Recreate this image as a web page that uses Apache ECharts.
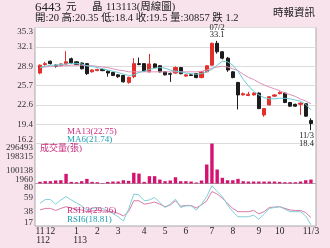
<!DOCTYPE html>
<html><head><meta charset="utf-8">
<script src="https://cdn.jsdelivr.net/npm/echarts@6/dist/echarts.min.js"></script>
<style>html,body{margin:0;padding:0;background:#f8e2ec}#c{width:330px;height:248px}</style>
</head><body><div id="c"></div><script>
// ---- data ----
const opens  = [27.8,29.2,29.75,29.1,29.0,29.3,30.15,29.65,29.45,29.35,28.0,28.2,28.4,28.1,27.9,27.5,27.4,26.25,27.2,29.35,29.35,28.0,29.3,29.0,28.0,27.7,27.8,28.7,27.3,27.5,27.7,27.05,28.0,29.1,32.7,31.3,30.25,28.0,26.25,24.2,24.1,24.2,24.5,20.9,22.55,24.0,24.4,24.5,22.95,22.65,22.65,22.75,20.0];
const closes = [29.1,29.35,29.35,28.9,29.3,29.65,29.45,29.2,28.5,27.7,28.3,28.4,28.2,27.8,27.4,27.2,26.35,27.1,29.35,29.2,28.1,29.3,28.7,28.0,27.5,27.6,28.7,27.7,27.5,27.4,27.05,28.0,29.0,32.7,31.3,30.25,28.3,27.05,24.2,24.4,24.3,24.5,21.95,21.95,23.9,24.2,24.6,22.95,22.35,22.35,22.85,20.7,19.5];
const lows   = [27.6,29.0,29.2,28.7,28.9,29.1,29.3,29.1,28.4,27.5,27.9,28.1,28.1,27.2,27.3,27.0,26.25,26.05,26.95,29.1,28.0,27.9,28.6,27.9,27.4,26.35,27.7,27.6,27.2,27.3,26.95,26.95,27.9,29.0,31.0,30.05,28.0,26.95,21.8,24.1,24.0,24.1,21.85,20.6,22.45,23.9,24.3,22.85,22.25,22.25,20.9,20.6,18.4];
const highs  = [29.2,29.65,29.85,29.2,29.4,31.4,30.35,29.75,29.55,29.45,28.4,28.5,28.5,28.2,28.0,27.6,27.5,27.2,30.25,30.35,29.45,30.95,29.4,29.1,28.1,27.9,28.9,28.8,27.6,27.6,27.8,28.1,29.1,32.8,33.1,31.4,30.45,28.1,26.35,24.6,24.7,24.6,24.6,22.05,24.0,24.3,24.8,24.6,23.05,22.75,22.95,22.85,20.35];
const ma13 = [28.7,28.8,28.9,28.95,29.0,29.0,29.1,29.1,29.1,29.0,29.0,28.9,28.8,28.7,28.5,28.3,28.2,28.0,28.0,28.0,28.0,28.0,28.0,28.0,28.0,28.0,28.0,28.0,28.0,28.0,28.0,28.1,28.3,28.6,28.8,28.9,28.8,28.5,28.2,27.6,27.1,26.75,26.25,25.85,25.5,25.2,24.9,24.5,24.25,23.95,23.5,23.2,22.75];
const ma6  = [28.7,28.9,29.1,29.1,29.2,29.3,29.4,29.4,29.3,29.0,28.9,28.7,28.5,28.3,28.1,27.9,27.6,27.4,27.5,27.9,28.1,28.4,28.6,28.7,28.6,28.3,28.1,28.0,27.8,27.7,27.6,27.7,28.0,28.4,29.1,29.75,29.65,29.1,28.1,26.75,25.7,24.8,24.2,23.75,23.55,23.55,23.65,23.65,23.55,23.35,23.15,22.65,21.74];
const volumes = [14500,19000,19000,24000,26000,73000,14000,11500,19000,36000,14000,11500,5000,14000,16500,16500,26000,21500,81000,75000,14000,56000,56000,31000,19000,24000,48000,19000,19000,16500,9500,24000,142000,296000,105000,44000,26000,26000,36000,19000,16500,16500,16500,16500,16500,16500,14000,11500,11500,11500,16500,26000,30857];
const rsi6  = [50.6,56.2,56.2,49.4,55.6,60.6,55.6,51.2,46.9,40.7,43.1,44.4,43.1,39.4,35.7,30.7,24.5,41.9,64.3,63.1,54.4,55.6,59.3,51.9,44.4,49.4,56.8,44.4,46.9,46.9,40.7,49.4,60.6,76.8,68.1,60.6,48.1,38.2,30.7,30.7,30.7,33.2,27.0,34.4,43.1,44.4,45.6,41.9,38.2,38.2,38.2,31.9,18.81];
const rsi13 = [40.7,43.1,43.1,40.0,43.1,45.6,43.8,41.9,40.7,38.2,39.4,40.0,39.4,38.8,38.2,35.7,31.9,38.2,54.4,54.4,49.4,50.6,52.5,49.4,45.6,48.1,54.4,46.3,47.5,47.5,43.8,48.1,54.4,68.1,64.3,58.1,50.6,43.1,38.2,38.2,38.2,40.0,35.1,38.2,44.4,45.0,45.6,43.1,40.7,40.0,40.0,36.9,29.36];
const monthPos = [0,2,7,11,15,20,24,28,33,37,42,46,52];
const monthLabels = ['11','12','1','2','3','4','5','6','7','8','9','10','11/3'];
const yearPos = [0.6,7.7];
const yearLabels = ['112','113'];
const priceTicks = [16.2,19.383,22.567,25.75,28.933,32.117,35.3];
const priceLabels = ['16.2','19.4','22.6','25.7','28.9','32.1','35.3'];
const volTicks = [1960,100138,198315,296493];
const volLabels = ['1960','100138','198315','296493'];
const rsiTicks = [17,38,59,80];
const rsiLabels = ['17','38','59','80'];
const maxDate = '07/2', minDate = '11/3';

// ---- chart ----
const FONT = '"Liberation Serif","Noto Sans CJK TC",serif';
const pick = (ticks, labels) => v => { for (let i=0;i<ticks.length;i++) if (Math.abs(ticks[i]-v)<1e-3) return labels[i]; return ''; };
const pickEdge = (ticks, labels) => v => {
  for (let i=0;i<ticks.length;i++) if (Math.abs(ticks[i]-v)<1e-3) {
    if (i===0) return '{lo|'+labels[i]+'}';
    if (i===ticks.length-1) return '{hi|'+labels[i]+'}';
    return labels[i];
  }
  return '';
};
const edgeRich = {
  lo:{fontSize:9, color:'#333', fontFamily:FONT, padding:[0,0,7,0]},
  hi:{fontSize:9, color:'#333', fontFamily:FONT, padding:[8,0,0,0]}
};
const chart = echarts.init(document.getElementById('c'), null, {renderer:'canvas'});
const gridBase = {left:35, right:14, show:true, backgroundColor:'#fff', borderColor:'#a9a9a9', borderWidth:1};
const xBase = {type:'value', min:-0.96, max:52.97, axisLine:{show:false}, axisTick:{show:false}, splitLine:{show:false}, axisLabel:{show:false}};
const yLab = (ticks, labels) => ({customValues:ticks, formatter:pickEdge(ticks,labels), fontSize:9, color:'#333', fontFamily:FONT, margin:2, rich:edgeRich});
const candleData = opens.map((o,i)=>[i,o,closes[i],lows[i],highs[i]]);
chart.setOption({
  animation:false,
  backgroundColor:'#f8e2ec',
  grid:[
    Object.assign({top:27.5, height:116}, gridBase),
    Object.assign({top:143.5, height:40}, gridBase),
    Object.assign({top:183.5, height:42.5}, gridBase)
  ],
  xAxis:[
    Object.assign({gridIndex:0}, xBase),
    Object.assign({gridIndex:1}, xBase),
    Object.assign({}, xBase, {gridIndex:2, axisLabel:{show:true, customValues:monthPos, formatter:pick(monthPos,monthLabels), fontSize:9.5, color:'#222', fontFamily:FONT, margin:1}}),
    Object.assign({}, xBase, {gridIndex:2, position:'bottom', offset:8.5, axisLabel:{show:true, customValues:yearPos, formatter:pick(yearPos,yearLabels), fontSize:9.5, color:'#222', fontFamily:FONT, margin:1}})
  ],
  yAxis:[
    {gridIndex:0, type:'value', min:16.2, max:35.3, axisLine:{show:false}, axisTick:{show:false, customValues:priceTicks},
      axisLabel:yLab(priceTicks,priceLabels), splitLine:{show:true, lineStyle:{color:'#dcdcdc', width:1}}},
    {gridIndex:1, type:'value', min:1960, max:296493, axisLine:{show:false}, axisTick:{show:false, customValues:volTicks},
      axisLabel:yLab(volTicks,volLabels), splitLine:{show:false}},
    {gridIndex:2, type:'value', min:17, max:80, axisLine:{show:false}, axisTick:{show:false, customValues:rsiTicks},
      axisLabel:yLab(rsiTicks,rsiLabels), splitLine:{show:false}}
  ],
  series:[
    {type:'candlestick', xAxisIndex:0, yAxisIndex:0, data:candleData, encode:{x:0, y:[1,2,3,4]}, barWidth:3.6,
      itemStyle:{color:'#e3302d', color0:'#1c1c1c', borderColor:'#e3302d', borderColor0:'#1c1c1c', borderWidth:1},
      markPoint:{symbol:'circle', symbolSize:0, silent:true, data:[
        {type:'max', valueDim:'highest', label:{show:true, position:'top', distance:2, formatter:p=>maxDate+'\n'+p.value, fontSize:8.5, lineHeight:7.5, color:'#222', fontFamily:FONT}},
        {type:'min', valueDim:'lowest', label:{show:true, position:'bottom', distance:1, align:'right', offset:[3,0], formatter:p=>minDate+'\n'+p.value, fontSize:8.5, lineHeight:8.5, color:'#222', fontFamily:FONT}}
      ]}},
    {type:'line', xAxisIndex:0, yAxisIndex:0, data:ma13.map((v,i)=>[i,v]), showSymbol:false, lineStyle:{color:'#dc92b8', width:1}, z:3},
    {type:'line', xAxisIndex:0, yAxisIndex:0, data:ma6.map((v,i)=>[i,v]), showSymbol:false, lineStyle:{color:'#6ccad3', width:1}, z:3},
    {type:'bar', xAxisIndex:1, yAxisIndex:1, data:volumes.map((v,i)=>[i,v]), barWidth:3.4, itemStyle:{color:'#d5126f'}},
    {type:'line', xAxisIndex:2, yAxisIndex:2, data:rsi13.map((v,i)=>[i,v]), showSymbol:false, lineStyle:{color:'#d97aa6', width:1}},
    {type:'line', xAxisIndex:2, yAxisIndex:2, data:rsi6.map((v,i)=>[i,v]), showSymbol:false, lineStyle:{color:'#7fcfd6', width:1}}
  ],
  graphic:[
    {type:'text', left:35, top:1, style:{text:'6443', font:'13px '+FONT, fill:'#222'}},
    {type:'text', left:66, top:2, style:{text:'元', font:'10.5px '+FONT, fill:'#222'}},
    {type:'text', left:92, top:2, style:{text:'晶', font:'10.5px '+FONT, fill:'#222'}},
    {type:'text', left:106, top:2, style:{text:'113113(周線圖)', font:'10.5px '+FONT, fill:'#222'}},
    {type:'text', left:35, top:13, style:{text:'開:20 高:20.35 低:18.4 收:19.5 量:30857 跌 1.2', font:'10.5px '+FONT, fill:'#222'}},
    {type:'text', right:15, top:8, style:{text:'時報資訊', font:'10.5px '+FONT, fill:'#222'}},
    {type:'text', left:67, top:127, style:{text:'MA13('+ma13[ma13.length-1]+')', font:'9px '+FONT, fill:'#c92c7c'}, z:10},
    {type:'text', left:67, top:135.5, style:{text:'MA6('+ma6[ma6.length-1]+')', font:'9px '+FONT, fill:'#1d9fb0'}, z:10},
    {type:'text', left:40, top:144, style:{text:'成交量(張)', font:'9px '+FONT, fill:'#c92c7c'}, z:10},
    {type:'text', left:67, top:206.5, style:{text:'RSI13('+rsi13[rsi13.length-1]+')', font:'9px '+FONT, fill:'#c92c7c'}, z:10},
    {type:'text', left:67, top:215, style:{text:'RSI6('+rsi6[rsi6.length-1]+')', font:'9px '+FONT, fill:'#1d9fb0'}, z:10}
  ]
});
</script></body></html>
